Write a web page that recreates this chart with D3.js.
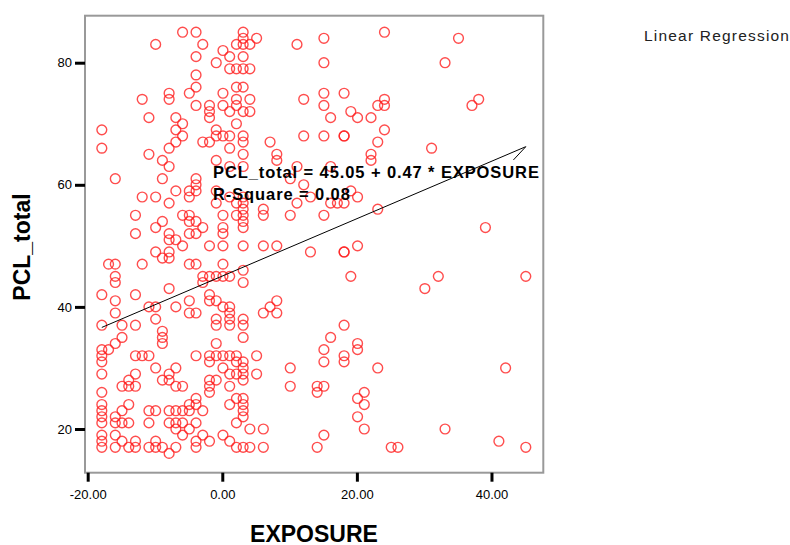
<!DOCTYPE html>
<html>
<head>
<meta charset="utf-8">
<script src="https://cdn.jsdelivr.net/npm/d3@7"></script>
<style>
  body { margin: 0; background: #fff; }
  svg { display: block; font-family: "Liberation Sans", Arial, sans-serif; }
</style>
</head>
<body>
<svg id="chart" width="790" height="545"></svg>
<script>
// EXPOSURE takes discrete values, PCL_total listed per exposure level
const exposureLevels = [-17.9, -16.9, -15.9, -14.9, -13.9, -12.9, -11.9, -10.9, -9.9, -8.9,
  -7.9, -6.9, -5.9, -4.9, -3.9, -2.9, -1.9, -0.9, 0.1, 1.1, 2.1, 3.1, 4.1, 5.1, 6.1, 7.1, 8.1,
  10.1, 11.1, 12.1, 13.1, 14.1, 15.1, 16.1, 17.1, 18.1, 19.1, 20.1, 21.1, 22.1, 23.1, 24.1,
  25.1, 26.1, 30.1, 31.1, 32.1, 33.1, 35.1, 37.1, 38.1, 39.1, 41.1, 42.1, 45.1];

const pclByLevel = [
  [69, 66, 42, 37, 33, 32, 31, 29, 26, 24, 23, 22, 21, 19, 18, 17],
  [47, 33],
  [61, 47, 45, 44, 41, 39, 34, 22, 21, 19, 17],
  [37, 35, 27, 23, 21, 18],
  [28, 27, 24, 21, 17],
  [55, 52, 42, 37, 32, 29, 27, 18, 17],
  [74, 58, 47, 32],
  [71, 65, 40, 32, 23, 21, 17],
  [83, 58, 53, 49, 40, 38, 30, 23, 18, 17],
  [64, 61, 54, 48, 36, 35, 34, 28, 17],
  [75, 74, 66, 63, 57, 52, 51, 49, 48, 43, 29, 28, 23, 21, 16],
  [71, 69, 67, 59, 51, 40, 30, 27, 23, 21, 20, 17],
  [85, 70, 68, 55, 50, 27, 23, 21, 19],
  [75, 59, 58, 55, 54, 52, 47, 41, 39, 24, 23, 20],
  [85, 81, 78, 76, 73, 61, 60, 59, 54, 52, 47, 39, 32, 25, 24, 21, 18, 17],
  [83, 67, 53, 45, 44, 23, 19],
  [73, 72, 71, 67, 50, 45, 42, 41, 32, 31, 28, 27, 26, 18],
  [80, 69, 68, 64, 59, 57, 45, 41, 38, 37, 34, 32, 28],
  [82, 75, 73, 68, 55, 53, 52, 50, 47, 45, 40, 32, 30, 19],
  [81, 79, 72, 68, 66, 63, 58, 45, 40, 39, 38, 37, 32, 29, 27, 24, 18],
  [83, 79, 76, 74, 73, 70, 57, 55, 32, 31, 29, 25, 21, 17],
  [85, 84, 83, 81, 79, 76, 72, 68, 67, 65, 63, 58, 57, 56, 55, 54, 53, 50, 46, 44, 38, 37, 35,
   31, 30, 29, 28, 25, 24, 23, 22, 17],
  [83, 79, 74, 72, 20, 17],
  [84, 32, 29],
  [56, 55, 50, 39, 20, 17],
  [67, 40],
  [65, 64, 50, 41, 39],
  [61, 55, 30, 27],
  [83, 63, 57],
  [74, 68, 60],
  [58, 49],
  [27, 26, 17],
  [84, 80, 75, 73, 68, 55, 33, 31, 27, 19],
  [71, 63, 57, 35],
  [57],
  [75, 68, 68, 57, 49, 49, 37, 32, 31],
  [72, 59, 45],
  [71, 58, 50, 34, 33, 25, 22],
  [26, 24, 20],
  [71, 65, 64],
  [73, 67, 56, 30],
  [85, 74, 73, 69],
  [17],
  [17],
  [43],
  [66],
  [45],
  [80, 20],
  [84],
  [73],
  [74],
  [53],
  [18],
  [30],
  [45, 17]
];

const xTicks = [-20, 0, 20, 40];
const yTicks = [20, 40, 60, 80];
const intercept = 45.05;
const slope = 0.47;
const rSquare = 0.08;

const points = exposureLevels.flatMap((x, i) => pclByLevel[i].map(y => ({ x: x, y: y })));

const svg = d3.select("#chart");
const box = { left: 85, right: 543.3, top: 15.7, bottom: 472.7 };

const x = d3.scaleLinear().domain([-20.4, 47.7]).range([box.left, box.right]);
const y = d3.scaleLinear().domain([12.84, 87.7]).range([box.bottom, box.top]);

// frame
svg.append("rect")
  .attr("x", box.left).attr("y", box.top)
  .attr("width", box.right - box.left).attr("height", box.bottom - box.top)
  .attr("fill", "none").attr("stroke", "#999").attr("stroke-width", 2);

// points
svg.append("g").selectAll("circle")
  .data(points)
  .join("circle")
  .attr("cx", d => x(d.x))
  .attr("cy", d => y(d.y))
  .attr("r", 4.9)
  .attr("fill", "none")
  .attr("stroke", "#ff2020")
  .attr("stroke-opacity", 0.8)
  .attr("stroke-width", 1.4);

// regression line
const ext = d3.extent(points, d => d.x);
const line = d3.line().x(d => x(d)).y(d => y(intercept + slope * d));
svg.append("path")
  .attr("d", line(ext))
  .attr("fill", "none").attr("stroke", "#000").attr("stroke-width", 1);

// label leader
const tipX = x(ext[1]), tipY = y(intercept + slope * ext[1]);
svg.append("line")
  .attr("x1", tipX).attr("y1", tipY)
  .attr("x2", tipX - 12.4).attr("y2", tipY + 13.3)
  .attr("stroke", "#000").attr("stroke-width", 1);

// axes
const yAxis = svg.append("g")
  .attr("transform", `translate(${box.left},0)`)
  .call(d3.axisLeft(y).tickValues(yTicks).tickSize(10).tickPadding(3).tickFormat(d3.format("d")));
const xAxis = svg.append("g")
  .attr("transform", `translate(0,${box.bottom})`)
  .call(d3.axisBottom(x).tickValues(xTicks).tickSize(9).tickPadding(8).tickFormat(d => d.toFixed(2)));

[yAxis, xAxis].forEach(a => {
  a.select(".domain").remove();
  a.selectAll(".tick line").attr("stroke", "#000").attr("stroke-width", 3);
  a.selectAll(".tick text")
    .attr("fill", "#000")
    .style("font-size", "13px")
    .style("font-family", "'Liberation Sans', Arial, sans-serif");
});

// axis titles
svg.append("text")
  .attr("x", 314).attr("y", 541.5)
  .attr("text-anchor", "middle")
  .style("font-size", "23px").style("font-weight", "bold")
  .text("EXPOSURE");

svg.append("text")
  .attr("transform", "translate(29.5,247) rotate(-90)")
  .attr("text-anchor", "middle")
  .style("font-size", "23px").style("font-weight", "bold")
  .text("PCL_total");

// regression annotation
svg.append("text")
  .attr("x", 213).attr("y", 177.5)
  .style("font-size", "16.5px").style("font-weight", "bold").style("letter-spacing", "0.9px")
  .text(`PCL_total = ${intercept.toFixed(2)} + ${slope.toFixed(2)} * EXPOSURE`);

svg.append("text")
  .attr("x", 213).attr("y", 199.5)
  .style("font-size", "16.5px").style("font-weight", "bold").style("letter-spacing", "0.9px")
  .text(`R-Square = ${rSquare.toFixed(2)}`);

// legend
svg.append("text")
  .attr("x", 644).attr("y", 40.5)
  .attr("fill", "#222")
  .style("font-size", "15.5px").style("letter-spacing", "1.2px")
  .text("Linear Regression");
</script>
</body>
</html>
